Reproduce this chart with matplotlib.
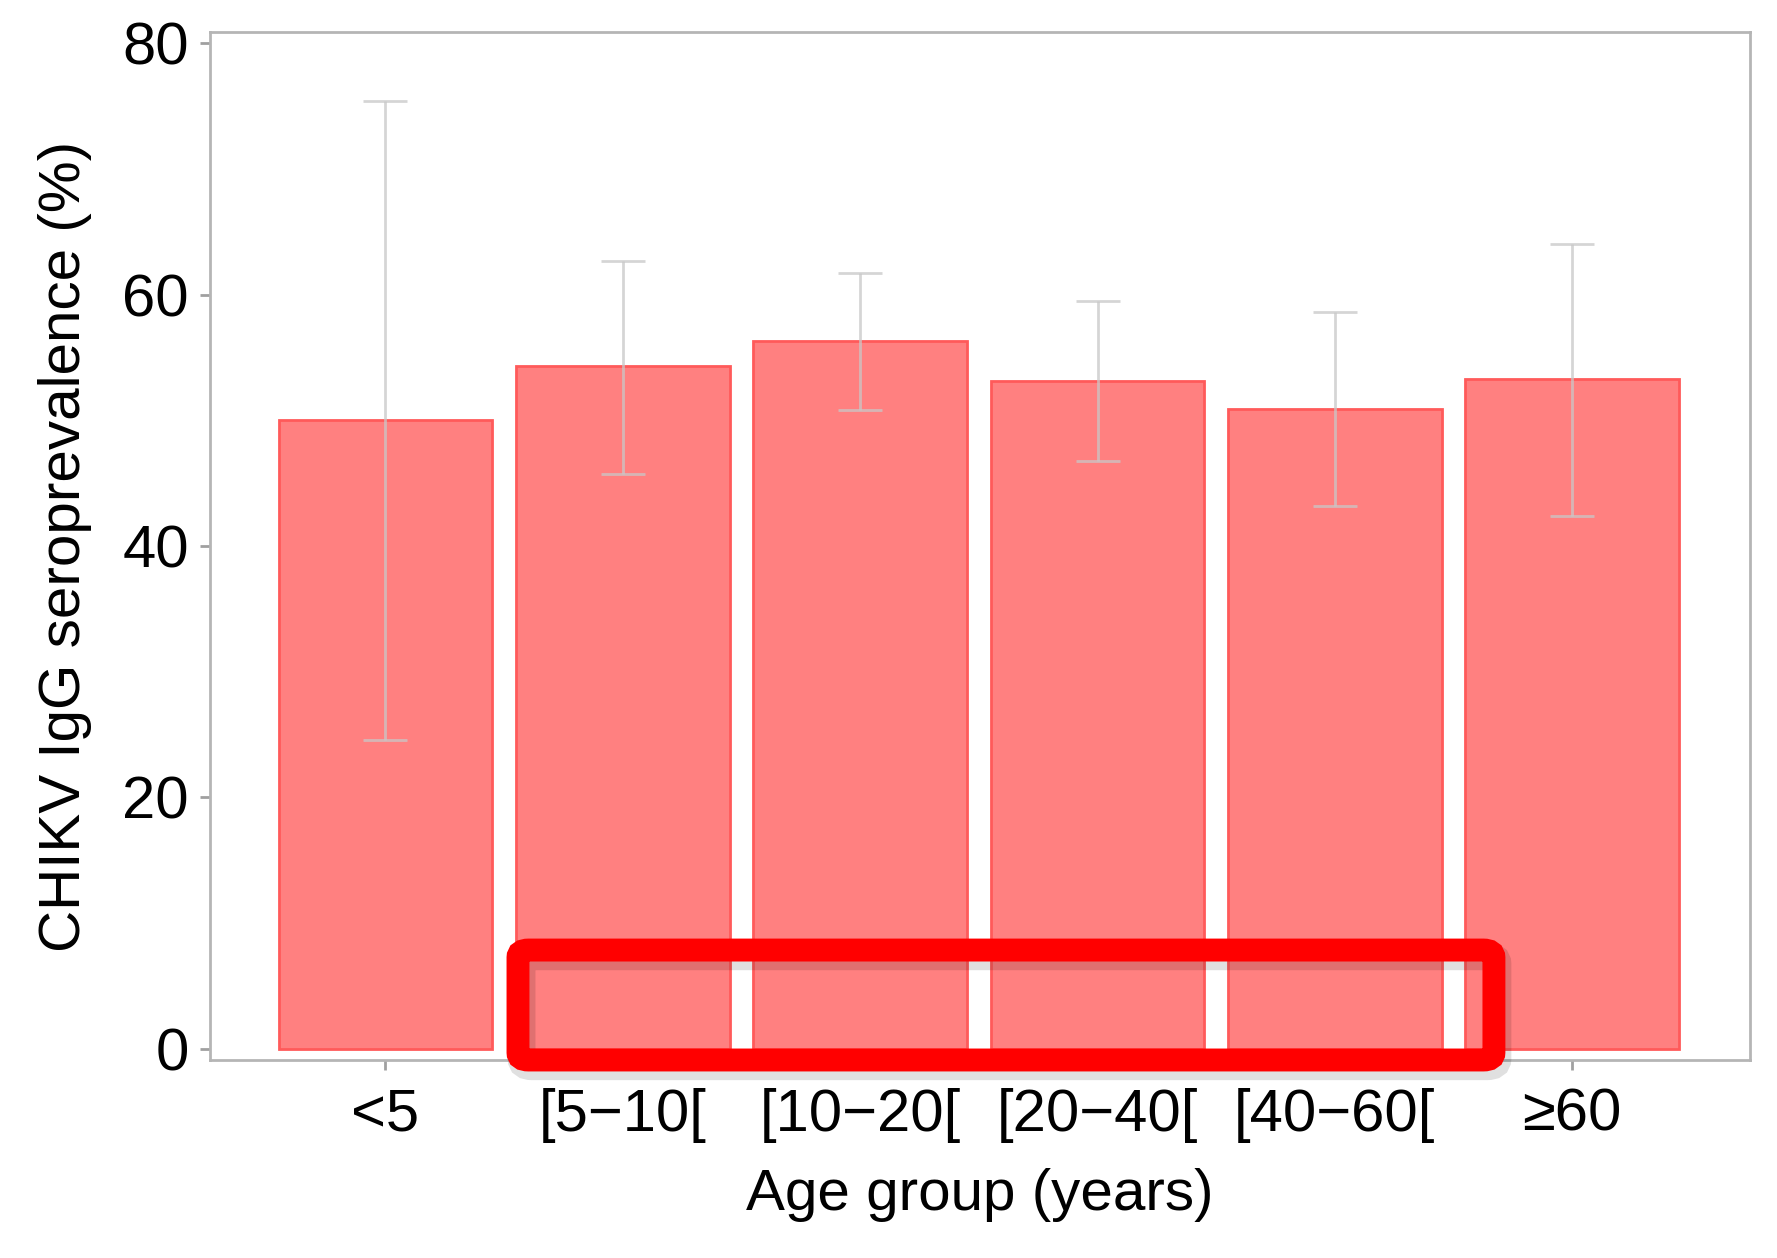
import matplotlib
matplotlib.use("Agg")
import matplotlib.pyplot as plt
from matplotlib.patches import FancyBboxPatch

categories = ["<5", "[5\u221210[", "[10\u221220[", "[20\u221240[", "[40\u221260[", "\u226560"]
prevalence = [50.0, 54.3, 56.3, 53.1, 50.9, 53.3]
ci_low = [24.6, 45.7, 50.8, 46.8, 43.2, 42.4]
ci_high = [75.4, 62.7, 61.7, 59.5, 58.6, 64.0]
yticks = [0, 20, 40, 60, 80]

plt.rcParams['font.family'] = ['Liberation Sans', 'DejaVu Sans']

fig = plt.figure(figsize=(17.77, 12.58), dpi=100)
ax = fig.add_axes([0.118, 0.1574, 0.867, 0.8172])

x = list(range(len(categories)))
ax.bar(x, prevalence, width=0.9, color='#FF8080', edgecolor='#FF5A5A', linewidth=2, zorder=2)
yerr = [[p - l for p, l in zip(prevalence, ci_low)], [h - p for p, h in zip(prevalence, ci_high)]]
ax.errorbar(x, prevalence, yerr=yerr, fmt='none', ecolor='#C8C8C8', elinewidth=2,
            capsize=16, capthick=2, alpha=0.75, zorder=3)

ax.set_xlim(-0.74, 5.75)
ax.set_ylim(-0.9, 80.9)
ax.set_xticks(x)
ax.set_xticklabels(categories)
ax.set_yticks(yticks)
ax.tick_params(axis='both', colors='#A0A0A0', labelcolor='black', labelsize=43,
               length=7, width=2)
ax.tick_params(axis='x', pad=13)
ax.tick_params(axis='y', pad=8)
for s in ax.spines.values():
    s.set_color('#B5B5B5')
    s.set_linewidth(2)

ax.set_xlabel("Age group (years)", fontsize=42, labelpad=18)
ax.set_ylabel("CHIKV IgG seroprevalence (%)", fontsize=42, labelpad=22)

# highlight box (annotation overlay)
shadow = FancyBboxPatch((0.2935, 0.1524), 0.5492, 0.0874, boxstyle="round,pad=0,rounding_size=0.006",
                        transform=fig.transFigure, fill=False, edgecolor='black', alpha=0.12,
                        linewidth=20, zorder=9)
fig.patches.append(shadow)
box = FancyBboxPatch((0.2915, 0.1574), 0.5492, 0.0874, boxstyle="round,pad=0,rounding_size=0.006",
                     transform=fig.transFigure, fill=False, edgecolor='#FF0000',
                     linewidth=16.5, zorder=10)
fig.patches.append(box)

fig.savefig("out.png", dpi=100)
